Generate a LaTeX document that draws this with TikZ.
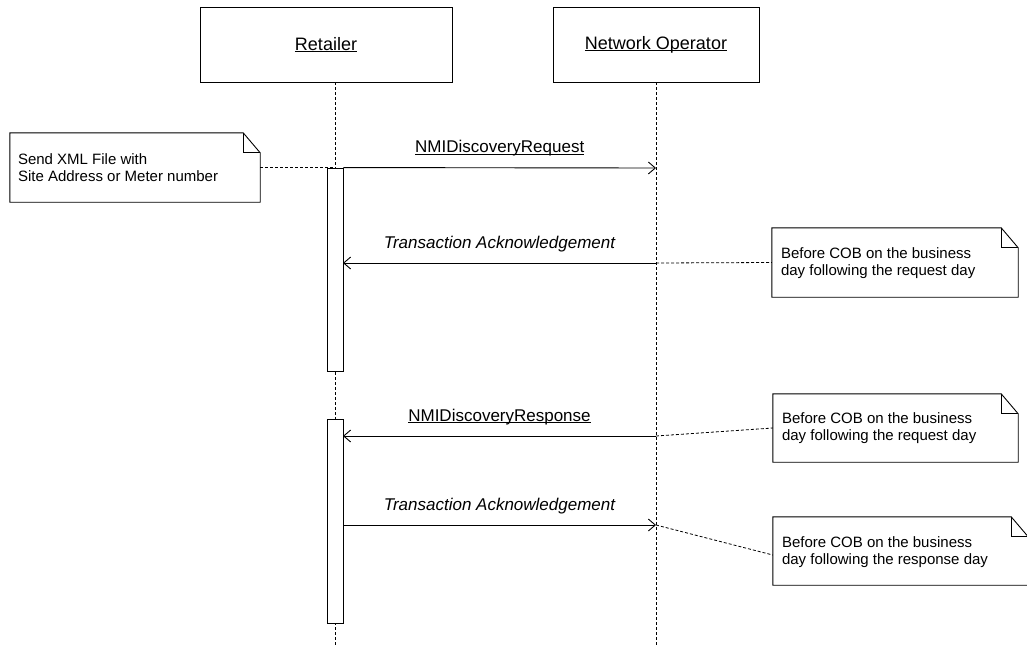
\documentclass[tikz,border=0pt]{standalone}
\usepackage{fontspec}
\setmainfont{Liberation Sans}
\usetikzlibrary{arrows.meta}
% underline drawn close to the baseline
\newcommand\ulabel[1]{\setbox0\hbox{#1}\rlap{\rule[-2pt]{\wd0}{0.9pt}}\box0}
\begin{document}
\begin{tikzpicture}[x=1pt,y=-1pt,
  headbox/.style={draw, line width=0.9pt, minimum height=75pt, inner sep=0pt,
    font=\fontsize{18}{21}\selectfont},
  lifeline/.style={line width=0.8pt, dash pattern=on 3pt off 2pt},
  actbar/.style={draw, fill=white, line width=0.9pt, minimum width=16pt, inner sep=0pt},
  msg/.style={line width=0.9pt, -{Straight Barb[length=7pt,width=12pt,line width=0.9pt]}},
  msglabel/.style={anchor=base, yshift=15pt, inner sep=0pt, font=\fontsize{17}{20}\selectfont},
  notebox/.style={inner sep=0pt},
  noteline/.style={line width=0.9pt, line join=miter},
  notetext/.style={anchor=north west, inner sep=0pt, align=left,
    font=\fontsize{15}{16.8}\selectfont},
  noteconn/.style={line width=0.8pt, dash pattern=on 3pt off 2pt}
]
\useasboundingbox (0,0) rectangle (1027,648);
\clip (0,0) rectangle (1027,648);

% participants
\node[headbox, minimum width=252pt] (ret) at (326,44.5) {\ulabel{Retailer}};
\node[headbox, minimum width=206pt] (nop) at (656,44.5) {\ulabel{Network Operator}};

% lifelines
\coordinate (rlTop) at (335,82);
\coordinate (rlEnd) at (335,646);
\coordinate (nlTop) at (656,82);
\coordinate (nlEnd) at (656,646);
\draw[lifeline] (rlTop) -- (rlEnd);
\draw[lifeline] (nlTop) -- (nlEnd);

% activation bars
\node[actbar, minimum height=203pt] (act1) at (335,269.5) {};
\node[actbar, minimum height=204pt] (act2) at (335,521) {};

% message end points on the lifelines
\coordinate (reqN) at (656,168);
\coordinate (ta1N) at (656,263);
\coordinate (ta1R) at (343,263);
\coordinate (resN) at (656,436);
\coordinate (resR) at (343,436);
\coordinate (ta2R) at (343,525);
\coordinate (ta2N) at (656,525);

% messages
\draw[msg] (act1.north east) -- (reqN)
  node[msglabel, pos=0.5] {\ulabel{NMIDiscoveryRequest}};
\draw[msg] (ta1N) -- (ta1R)
  node[msglabel, pos=0.5] {\itshape Transaction Acknowledgement};
\draw[msg] (resN) -- (resR)
  node[msglabel, pos=0.5] {\ulabel{NMIDiscoveryResponse}};
\draw[msg] (ta2R) -- (ta2N)
  node[msglabel, pos=0.5] {\itshape Transaction Acknowledgement};

% notes
\node[notebox, minimum width=250pt, minimum height=69pt] (n1) at (135,167.5) {};
\node[notebox, minimum width=246pt, minimum height=69pt] (n2) at (895,262.5) {};
\node[notebox, minimum width=245pt, minimum height=68pt] (n3) at (895.5,428) {};
\node[notebox, minimum width=255pt, minimum height=68pt] (n4) at (900.5,551) {};
\foreach \n in {n1,n2,n3,n4} {
  \draw[noteline, fill=white] (\n.north west) -- ([xshift=-17pt]\n.north east)
    -- ([yshift=-20pt]\n.north east) -- (\n.south east) -- (\n.south west) -- cycle;
  \draw[noteline] ([xshift=-17pt]\n.north east) |- ([yshift=-20pt]\n.north east);
}
\node[notetext] (n1t) at ([xshift=8pt,yshift=-21pt]n1.north west)
  {Send XML File with\\Site Address or Meter number};
\node[notetext] (n2t) at ([xshift=9pt,yshift=-20pt]n2.north west)
  {Before COB on the business\\day following the request day};
\node[notetext] (n3t) at ([xshift=9pt,yshift=-19pt]n3.north west)
  {Before COB on the business\\day following the request day};
\node[notetext] (n4t) at ([xshift=9pt,yshift=-20pt]n4.north west)
  {Before COB on the business\\day following the response day};

% note connectors
\draw[noteconn] (n1.east) -- (n1.east -| rlTop);
\draw[noteconn] (ta1N) -- (n2.west);
\draw[noteconn] (resN) -- (n3.west);
\draw[noteconn] (ta2N) -- ([yshift=-4pt]n4.west);
\end{tikzpicture}
\end{document}
